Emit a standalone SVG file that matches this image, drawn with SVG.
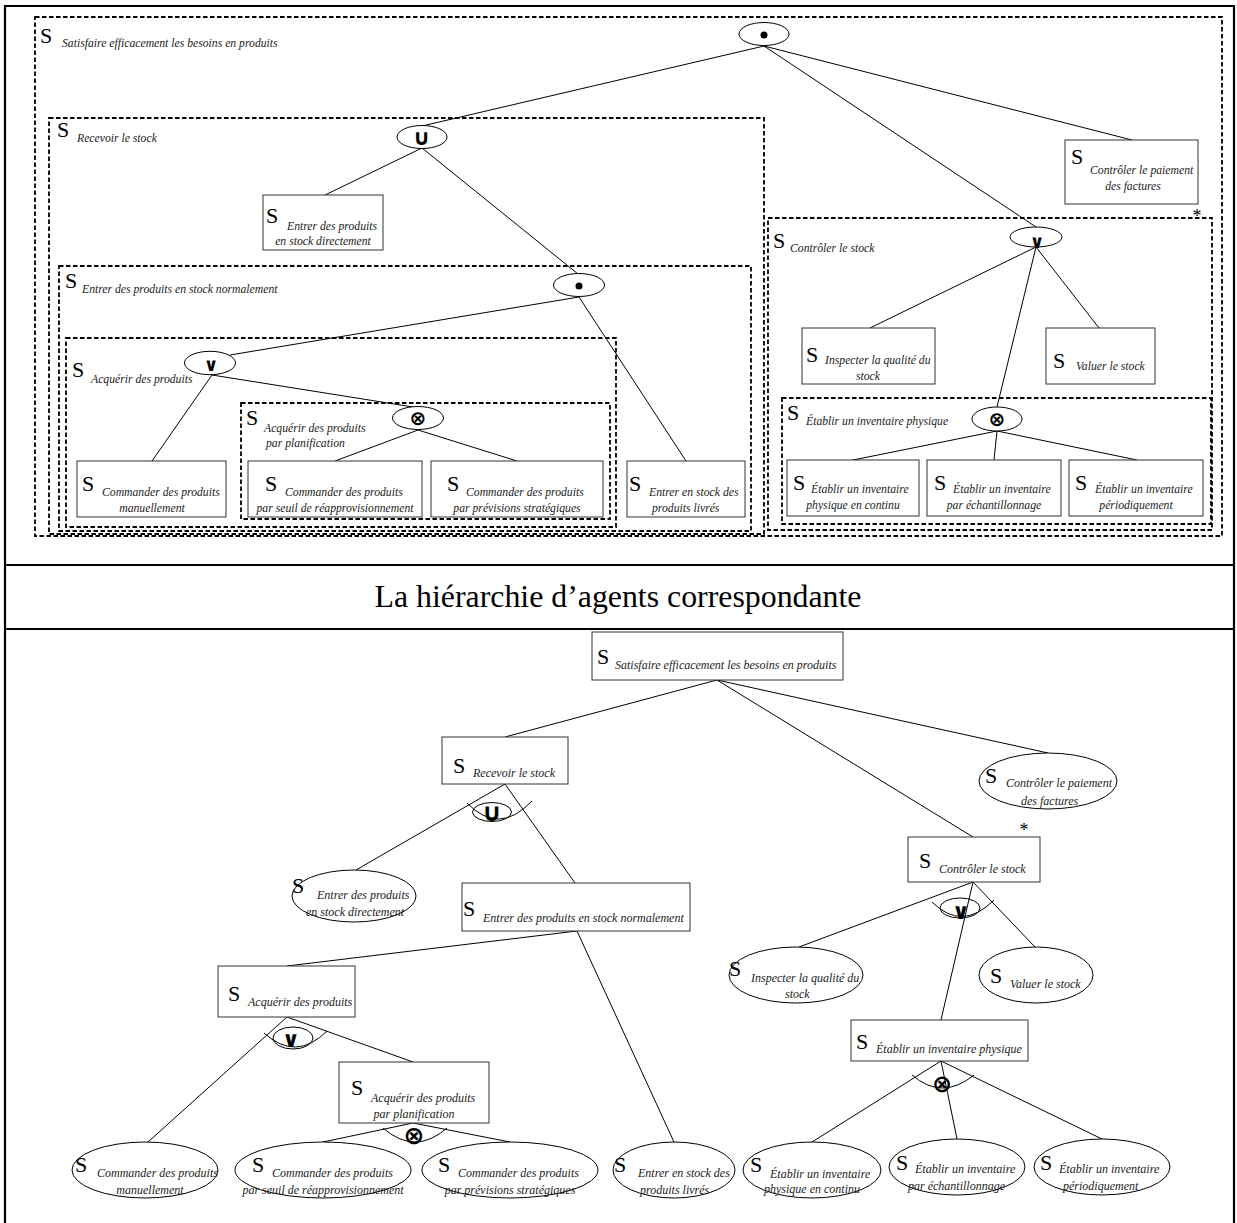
<svg xmlns="http://www.w3.org/2000/svg" width="1237" height="1223" viewBox="0 0 1237 1223">
<style>
  .tbl { stroke:#000; stroke-width:2.2; fill:none; }
  .dash { fill:none; stroke:#000; stroke-width:1.8; stroke-dasharray:4.5 2.5; }
  .box { fill:#fff; stroke:#333; stroke-width:1; }
  .op { fill:#fff; stroke:#000; stroke-width:1; }
  .ring { fill:none; stroke:#000; stroke-width:1; }
  .arc { fill:none; stroke:#000; stroke-width:1; }
  .edge line { stroke:#000; stroke-width:1; }
  .S { font-family:"Liberation Serif","Times New Roman",serif; font-size:22px; fill:#000; }
  .lt { font-family:"Liberation Serif","Times New Roman",serif; font-style:italic; font-size:11.7px; fill:#222; }
  .lb { font-family:"Liberation Serif","Times New Roman",serif; font-style:italic; font-size:12px; fill:#222; }
  .mid { text-anchor:middle; }
  .sym { font-family:"DejaVu Sans",sans-serif; font-weight:bold; text-anchor:middle; fill:#000; }
  .star { font-family:"Liberation Serif",serif; font-size:18px; fill:#000; text-anchor:middle; }
  .title { font-family:"Liberation Serif","Times New Roman",serif; font-size:31px; fill:#000; text-anchor:middle; }
</style>

<rect width="1237" height="1223" fill="#fff"/>

<!-- table frame -->
<g id="frame">
  <line class="tbl" x1="4" y1="6" x2="1235" y2="6"/>
  <line class="tbl" x1="5" y1="5" x2="5" y2="1223"/>
  <line class="tbl" x1="1234" y1="5" x2="1234" y2="1223"/>
  <line class="tbl" x1="4" y1="565" x2="1235" y2="565"/>
  <line class="tbl" x1="4" y1="629" x2="1235" y2="629"/>
  <text class="title" x="618" y="607" textLength="487" lengthAdjust="spacingAndGlyphs">La hiérarchie d’agents correspondante</text>
</g>

<!-- connectors -->
<g id="connectors" class="edge">
  <!-- goal tree -->
  <line x1="764" y1="46" x2="422" y2="126"/>
  <line x1="764" y1="46" x2="1132" y2="140"/>
  <line x1="764" y1="46" x2="1036" y2="227"/>
  <line x1="422" y1="148" x2="325" y2="195"/>
  <line x1="422" y1="148" x2="578" y2="274"/>
  <line x1="579" y1="297" x2="230" y2="355"/>
  <line x1="579" y1="297" x2="686" y2="461"/>
  <line x1="212" y1="375" x2="152" y2="461"/>
  <line x1="212" y1="375" x2="413" y2="407"/>
  <line x1="418" y1="430" x2="335" y2="461"/>
  <line x1="418" y1="430" x2="517" y2="461"/>
  <line x1="1036" y1="247" x2="870" y2="328"/>
  <line x1="1036" y1="247" x2="1099" y2="328"/>
  <line x1="1036" y1="247" x2="997" y2="407"/>
  <line x1="997" y1="431" x2="853" y2="460"/>
  <line x1="997" y1="431" x2="994" y2="460"/>
  <line x1="997" y1="431" x2="1137" y2="460"/>
  <!-- agent hierarchy -->
  <line x1="717" y1="680" x2="505" y2="737"/>
  <line x1="717" y1="680" x2="1048" y2="753"/>
  <line x1="717" y1="680" x2="973" y2="837"/>
  <line x1="505" y1="784" x2="356" y2="870"/>
  <line x1="505" y1="784" x2="575" y2="883"/>
  <line x1="577" y1="931" x2="287" y2="966"/>
  <line x1="577" y1="931" x2="674" y2="1142"/>
  <line x1="287" y1="1017" x2="148" y2="1142"/>
  <line x1="287" y1="1017" x2="413" y2="1062"/>
  <line x1="413" y1="1123" x2="323" y2="1142"/>
  <line x1="413" y1="1123" x2="510" y2="1142"/>
  <line x1="973" y1="882" x2="799" y2="947"/>
  <line x1="973" y1="882" x2="1035" y2="947"/>
  <line x1="973" y1="882" x2="941" y2="1020"/>
  <line x1="941" y1="1061" x2="812" y2="1142"/>
  <line x1="941" y1="1061" x2="957" y2="1139"/>
  <line x1="941" y1="1061" x2="1102" y2="1139"/>
</g>

<!-- ===== goal tree (top) ===== -->
<g id="g-satisfaire">
  <rect class="dash" x="35" y="17" width="1187" height="519"/>
  <text class="S" x="40" y="43">S</text>
  <text class="lt" x="62" y="47">Satisfaire efficacement les besoins en produits</text>
  <ellipse class="op" cx="764" cy="34" rx="25" ry="11.5"/>
  <circle cx="764" cy="35" r="3.5" fill="#000"/>
</g>

<g id="g-recevoir">
  <rect class="dash" x="49" y="118" width="715" height="416"/>
  <text class="S" x="57" y="137">S</text>
  <text class="lt" x="77" y="142">Recevoir le stock</text>
  <ellipse class="op" cx="422" cy="137" rx="25" ry="11.5"/>
  <text class="sym" x="422" y="145" font-size="22">∪</text>
</g>

<g id="g-entrer-direct">
  <rect class="box" x="263" y="195" width="120" height="55"/>
  <text class="S" x="266" y="223">S</text>
  <text class="lt" x="287" y="230">Entrer des produits</text>
  <text class="lt mid" x="323" y="245">en stock directement</text>
</g>

<g id="g-entrer-normal">
  <rect class="dash" x="59" y="266" width="692" height="265"/>
  <text class="S" x="65" y="288">S</text>
  <text class="lt" x="82" y="293">Entrer des produits en stock normalement</text>
  <ellipse class="op" cx="579" cy="285" rx="25.5" ry="11.5"/>
  <circle cx="579" cy="286" r="3.5" fill="#000"/>
</g>

<g id="g-acquerir">
  <rect class="dash" x="66" y="338" width="550" height="189"/>
  <text class="S" x="72" y="377">S</text>
  <text class="lt" x="91" y="383">Acquérir des produits</text>
  <ellipse class="op" cx="210" cy="363" rx="25.5" ry="11.7"/>
  <text class="sym" x="211" y="371" font-size="18">∨</text>
</g>

<g id="g-planification">
  <rect class="dash" x="241" y="403" width="369" height="116"/>
  <text class="S" x="246" y="425">S</text>
  <text class="lt" x="264" y="432">Acquérir des produits</text>
  <text class="lt" x="266" y="447">par planification</text>
  <ellipse class="op" cx="418" cy="418" rx="25.5" ry="11.5"/>
  <text class="sym" x="418" y="425" font-size="20">⊗</text>
</g>

<g id="g-cmd-manuel">
  <rect class="box" x="77" y="461" width="149" height="56"/>
  <text class="S" x="82" y="491">S</text>
  <text class="lt" x="102" y="496">Commander des produits</text>
  <text class="lt mid" x="152" y="512">manuellement</text>
</g>

<g id="g-cmd-seuil">
  <rect class="box" x="248" y="461" width="174" height="56"/>
  <text class="S" x="265" y="491">S</text>
  <text class="lt" x="285" y="496">Commander des produits</text>
  <text class="lt mid" x="335" y="512">par seuil de réapprovisionnement</text>
</g>

<g id="g-cmd-prev">
  <rect class="box" x="431" y="461" width="172" height="56"/>
  <text class="S" x="447" y="491">S</text>
  <text class="lt" x="466" y="496">Commander des produits</text>
  <text class="lt mid" x="517" y="512">par prévisions stratégiques</text>
</g>

<g id="g-entrer-livres">
  <rect class="box" x="627" y="461" width="118" height="56"/>
  <text class="S" x="629" y="491">S</text>
  <text class="lt" x="649" y="496">Entrer en stock des</text>
  <text class="lt" x="652" y="512">produits livrés</text>
</g>

<g id="g-paiement">
  <rect class="box" x="1065" y="140" width="133" height="64"/>
  <text class="S" x="1071" y="164">S</text>
  <text class="lt" x="1090" y="174">Contrôler le paiement</text>
  <text class="lt mid" x="1133" y="190">des factures</text>
</g>

<g id="g-controler-stock">
  <rect class="dash" x="768" y="218" width="444" height="312"/>
  <text class="star" x="1197" y="222">*</text>
  <text class="S" x="773" y="248">S</text>
  <text class="lt" x="790" y="252">Contrôler le stock</text>
  <ellipse class="op" cx="1036" cy="237" rx="26" ry="10"/>
  <text class="sym" x="1037" y="248" font-size="18">∨</text>
</g>

<g id="g-inspecter">
  <rect class="box" x="802" y="328" width="133" height="56"/>
  <text class="S" x="806" y="362">S</text>
  <text class="lt" x="825" y="364">Inspecter la qualité du</text>
  <text class="lt mid" x="868" y="380">stock</text>
</g>

<g id="g-valuer">
  <rect class="box" x="1046" y="328" width="109" height="56"/>
  <text class="S" x="1053" y="368">S</text>
  <text class="lt" x="1076" y="370">Valuer le stock</text>
</g>

<g id="g-etablir-physique">
  <rect class="dash" x="782" y="398" width="429" height="126"/>
  <text class="S" x="787" y="420">S</text>
  <text class="lt" x="806" y="425">Établir un inventaire physique</text>
  <ellipse class="op" cx="997" cy="419" rx="25" ry="12"/>
  <text class="sym" x="997" y="426" font-size="20">⊗</text>
</g>

<g id="g-etablir-continu">
  <rect class="box" x="787" y="460" width="132" height="56"/>
  <text class="S" x="793" y="490">S</text>
  <text class="lt" x="811" y="493">Établir un inventaire</text>
  <text class="lt mid" x="853" y="509">physique en continu</text>
</g>

<g id="g-etablir-echant">
  <rect class="box" x="927" y="460" width="134" height="56"/>
  <text class="S" x="934" y="490">S</text>
  <text class="lt" x="953" y="493">Établir un inventaire</text>
  <text class="lt mid" x="994" y="509">par échantillonnage</text>
</g>

<g id="g-etablir-period">
  <rect class="box" x="1069" y="460" width="134" height="56"/>
  <text class="S" x="1075" y="490">S</text>
  <text class="lt" x="1095" y="493">Établir un inventaire</text>
  <text class="lt mid" x="1136" y="509">périodiquement</text>
</g>

<!-- ===== agent hierarchy (bottom) ===== -->
<g id="a-satisfaire">
  <rect class="box" x="592" y="632" width="251" height="48"/>
  <text class="S" x="597" y="664">S</text>
  <text class="lb" x="615" y="669">Satisfaire efficacement les besoins en produits</text>
</g>

<g id="a-recevoir">
  <rect class="box" x="442" y="737" width="126" height="47"/>
  <text class="S" x="453" y="773">S</text>
  <text class="lb" x="473" y="777">Recevoir le stock</text>
  <ellipse class="ring" cx="492" cy="812" rx="19.5" ry="9.5"/>
  <path class="arc" d="M467,803 Q499,836 532,801"/>
  <text class="sym" x="492" y="821" font-size="25">∪</text>
</g>

<g id="a-entrer-direct">
  <ellipse class="op" cx="354" cy="896" rx="62" ry="26"/>
  <text class="S" x="292" y="893">S</text>
  <text class="lb" x="317" y="899">Entrer des produits</text>
  <text class="lb" x="306" y="916">en stock directement</text>
</g>

<g id="a-entrer-normal">
  <rect class="box" x="462" y="883" width="228" height="48"/>
  <text class="S" x="463" y="916">S</text>
  <text class="lb" x="483" y="922">Entrer des produits en stock normalement</text>
</g>

<g id="a-acquerir">
  <rect class="box" x="218" y="966" width="137" height="51"/>
  <text class="S" x="228" y="1001">S</text>
  <text class="lb" x="248" y="1006">Acquérir des produits</text>
  <ellipse class="ring" cx="293" cy="1038" rx="20" ry="11"/>
  <path class="arc" d="M264,1033 Q296,1062 327,1031"/>
  <text class="sym" x="291" y="1047" font-size="22">∨</text>
</g>

<g id="a-planification">
  <rect class="box" x="339" y="1062" width="150" height="61"/>
  <text class="S" x="351" y="1095">S</text>
  <text class="lb" x="371" y="1102">Acquérir des produits</text>
  <text class="lb mid" x="414" y="1118">par planification</text>
  <path class="arc" d="M383,1128 Q415,1156 447,1128"/>
  <text class="sym" x="414" y="1144" font-size="25">⊗</text>
</g>

<g id="a-cmd-manuel">
  <ellipse class="op" cx="145" cy="1170" rx="73" ry="28"/>
  <text class="S" x="75" y="1172">S</text>
  <text class="lb" x="97" y="1177">Commander des produits</text>
  <text class="lb mid" x="150" y="1194">manuellement</text>
</g>

<g id="a-cmd-seuil">
  <ellipse class="op" cx="323" cy="1170" rx="88" ry="28"/>
  <text class="S" x="252" y="1172">S</text>
  <text class="lb" x="272" y="1177">Commander des produits</text>
  <text class="lb mid" x="323" y="1194">par seuil de réapprovisionnement</text>
</g>

<g id="a-cmd-prev">
  <ellipse class="op" cx="510" cy="1170" rx="88" ry="28"/>
  <text class="S" x="438" y="1172">S</text>
  <text class="lb" x="458" y="1177">Commander des produits</text>
  <text class="lb mid" x="510" y="1194">par prévisions stratégiques</text>
</g>

<g id="a-entrer-livres">
  <ellipse class="op" cx="674" cy="1170" rx="61" ry="28"/>
  <text class="S" x="614" y="1172">S</text>
  <text class="lb" x="638" y="1177">Entrer en stock des</text>
  <text class="lb" x="640" y="1194">produits livrés</text>
</g>

<g id="a-paiement">
  <ellipse class="op" cx="1048" cy="781" rx="69" ry="28"/>
  <text class="S" x="985" y="783">S</text>
  <text class="lb" x="1006" y="787">Contrôler le paiement</text>
  <text class="lb" x="1021" y="805">des factures</text>
</g>

<g id="a-controler-stock">
  <rect class="box" x="908" y="837" width="132" height="45"/>
  <text class="star" x="1024" y="836">*</text>
  <text class="S" x="919" y="868">S</text>
  <text class="lb" x="939" y="873">Contrôler le stock</text>
  <ellipse class="ring" cx="960" cy="908" rx="20" ry="10"/>
  <path class="arc" d="M932,902 Q962,932 994,900"/>
  <text class="sym" x="961" y="919" font-size="22">∨</text>
</g>

<g id="a-inspecter">
  <ellipse class="op" cx="796" cy="975" rx="67" ry="28"/>
  <text class="S" x="729" y="976">S</text>
  <text class="lb" x="751" y="982">Inspecter la qualité du</text>
  <text class="lb" x="785" y="998">stock</text>
</g>

<g id="a-valuer">
  <ellipse class="op" cx="1036" cy="975" rx="57" ry="28"/>
  <text class="S" x="990" y="983">S</text>
  <text class="lb" x="1010" y="988">Valuer le stock</text>
</g>

<g id="a-etablir-physique">
  <rect class="box" x="851" y="1020" width="177" height="41"/>
  <text class="S" x="856" y="1049">S</text>
  <text class="lb" x="876" y="1053">Établir un inventaire physique</text>
  <path class="arc" d="M912,1075 Q942,1101 974,1075"/>
  <text class="sym" x="942" y="1092" font-size="24">⊗</text>
</g>

<g id="a-etablir-continu">
  <ellipse class="op" cx="812" cy="1170" rx="69" ry="28"/>
  <text class="S" x="750" y="1172">S</text>
  <text class="lb" x="770" y="1178">Établir un inventaire</text>
  <text class="lb" x="764" y="1193">physique en continu</text>
</g>

<g id="a-etablir-echant">
  <ellipse class="op" cx="957" cy="1167" rx="68" ry="28"/>
  <text class="S" x="896" y="1170">S</text>
  <text class="lb" x="915" y="1173">Établir un inventaire</text>
  <text class="lb" x="908" y="1190">par échantillonnage</text>
</g>

<g id="a-etablir-period">
  <ellipse class="op" cx="1102" cy="1167" rx="68" ry="28"/>
  <text class="S" x="1040" y="1170">S</text>
  <text class="lb" x="1059" y="1173">Établir un inventaire</text>
  <text class="lb" x="1063" y="1190">périodiquement</text>
</g>
</svg>
